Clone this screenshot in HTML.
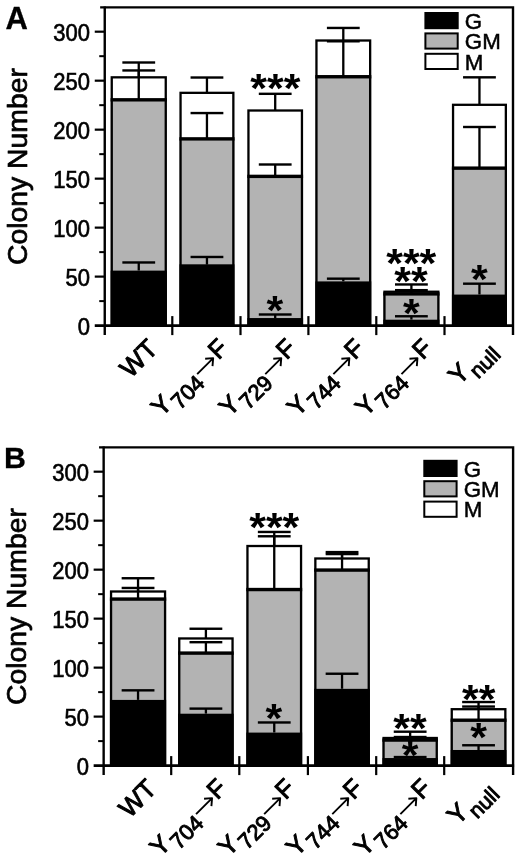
<!DOCTYPE html>
<html><head><meta charset="utf-8"><title>Figure</title>
<style>html,body{margin:0;padding:0;background:#fff}svg{display:block;will-change:transform}text{font-family:"Liberation Sans",sans-serif;fill:#000}</style>
</head><body>
<svg width="520" height="858" viewBox="0 0 520 858">
<rect width="520" height="858" fill="#fff"/>
<g>
<text x="5.5" y="28.5" font-size="31" font-weight="bold" stroke="#000" stroke-width="0.3">A</text>
<text transform="translate(26.6 166.6) rotate(-90)" font-size="28.3" letter-spacing="0.03" stroke="#000" stroke-width="0.7" stroke-linejoin="round" text-anchor="middle">Colony Number</text>
<text transform="translate(90 334.7) scale(1 1.06)" font-size="22" stroke="#000" stroke-width="0.6" text-anchor="end">0</text>
<text transform="translate(90 285.72) scale(1 1.06)" font-size="22" stroke="#000" stroke-width="0.6" text-anchor="end">50</text>
<text transform="translate(90 236.73) scale(1 1.06)" font-size="22" stroke="#000" stroke-width="0.6" text-anchor="end">100</text>
<text transform="translate(90 187.75) scale(1 1.06)" font-size="22" stroke="#000" stroke-width="0.6" text-anchor="end">150</text>
<text transform="translate(90 138.76) scale(1 1.06)" font-size="22" stroke="#000" stroke-width="0.6" text-anchor="end">200</text>
<text transform="translate(90 89.78) scale(1 1.06)" font-size="22" stroke="#000" stroke-width="0.6" text-anchor="end">250</text>
<text transform="translate(90 40.79) scale(1 1.06)" font-size="22" stroke="#000" stroke-width="0.6" text-anchor="end">300</text>
<rect x="110.6" y="77.33" width="56.3" height="22.38" fill="#fff"/>
<rect x="110.6" y="99.71" width="56.3" height="170.82" fill="#b3b3b3"/>
<rect x="110.6" y="270.52" width="56.3" height="55.08" fill="#000"/>
<rect x="111.75" y="77.33" width="54" height="248.27" fill="none" stroke="#000" stroke-width="2.3"/>
<rect x="110.6" y="98.11" width="56.3" height="3.4" fill="#000"/>
<rect x="137.6" y="62.5" width="2.3" height="14.82" fill="#000"/>
<rect x="122.35" y="61.3" width="32.8" height="2.4" fill="#000"/>
<rect x="137.6" y="70.45" width="2.3" height="29.25" fill="#000"/>
<rect x="122.35" y="69.25" width="32.8" height="2.4" fill="#000"/>
<rect x="137.6" y="262.47" width="2.3" height="8.05" fill="#000"/>
<rect x="122.35" y="261.27" width="32.8" height="2.4" fill="#000"/>
<rect x="179.4" y="92.84" width="55.1" height="45.94" fill="#fff"/>
<rect x="179.4" y="138.78" width="55.1" height="125.46" fill="#b3b3b3"/>
<rect x="179.4" y="264.24" width="55.1" height="61.36" fill="#000"/>
<rect x="180.55" y="92.84" width="52.8" height="232.76" fill="none" stroke="#000" stroke-width="2.3"/>
<rect x="179.4" y="137.18" width="55.1" height="3.4" fill="#000"/>
<rect x="205.8" y="77.52" width="2.3" height="15.31" fill="#000"/>
<rect x="190.55" y="76.32" width="32.8" height="2.4" fill="#000"/>
<rect x="205.8" y="113.06" width="2.3" height="25.92" fill="#000"/>
<rect x="190.55" y="111.86" width="32.8" height="2.4" fill="#000"/>
<rect x="205.8" y="256.98" width="2.3" height="7.66" fill="#000"/>
<rect x="190.55" y="255.78" width="32.8" height="2.4" fill="#000"/>
<rect x="247.3" y="110.51" width="55.8" height="65.77" fill="#fff"/>
<rect x="247.3" y="176.28" width="55.8" height="141.76" fill="#b3b3b3"/>
<rect x="247.3" y="318.04" width="55.8" height="7.56" fill="#000"/>
<rect x="248.45" y="110.51" width="53.5" height="215.09" fill="none" stroke="#000" stroke-width="2.3"/>
<rect x="247.3" y="174.68" width="55.8" height="3.4" fill="#000"/>
<rect x="274.05" y="93.82" width="2.3" height="16.69" fill="#000"/>
<rect x="258.8" y="92.62" width="32.8" height="2.4" fill="#000"/>
<rect x="274.05" y="164.5" width="2.3" height="11.78" fill="#000"/>
<rect x="258.8" y="163.3" width="32.8" height="2.4" fill="#000"/>
<rect x="274.05" y="314.5" width="2.3" height="3.53" fill="#000"/>
<rect x="258.8" y="313.3" width="32.8" height="2.4" fill="#000"/>
<text transform="translate(275.3 81.3) scale(1 0.93)" y="22" font-size="43" font-weight="bold" text-anchor="middle">***</text>
<text transform="translate(274.8 303.1) scale(1 0.93)" y="22" font-size="43" font-weight="bold" text-anchor="middle">*</text>
<rect x="315.3" y="40.51" width="56" height="36.13" fill="#fff"/>
<rect x="315.3" y="76.64" width="56" height="204.68" fill="#b3b3b3"/>
<rect x="315.3" y="281.32" width="56" height="44.28" fill="#000"/>
<rect x="316.45" y="40.51" width="53.7" height="285.09" fill="none" stroke="#000" stroke-width="2.3"/>
<rect x="315.3" y="75.04" width="56" height="3.4" fill="#000"/>
<rect x="342.15" y="27.95" width="2.3" height="12.86" fill="#000"/>
<rect x="326.9" y="26.75" width="32.8" height="2.4" fill="#000"/>
<rect x="342.15" y="41.3" width="2.3" height="35.83" fill="#000"/>
<rect x="326.9" y="40.1" width="32.8" height="2.4" fill="#000"/>
<rect x="342.15" y="278.67" width="2.3" height="2.65" fill="#000"/>
<rect x="326.9" y="277.47" width="32.8" height="2.4" fill="#000"/>
<rect x="383.3" y="291.73" width="56.2" height="2.06" fill="#fff"/>
<rect x="383.3" y="293.79" width="56.2" height="25.82" fill="#b3b3b3"/>
<rect x="383.3" y="319.61" width="56.2" height="5.99" fill="#000"/>
<rect x="384.45" y="291.73" width="53.9" height="33.87" fill="none" stroke="#000" stroke-width="2.3"/>
<rect x="383.3" y="292.19" width="56.2" height="3.4" fill="#000"/>
<rect x="410.25" y="284.46" width="2.3" height="7.26" fill="#000"/>
<rect x="395" y="283.26" width="32.8" height="2.4" fill="#000"/>
<rect x="410.25" y="290.16" width="2.3" height="3.93" fill="#000"/>
<rect x="395" y="288.96" width="32.8" height="2.4" fill="#000"/>
<rect x="410.25" y="316.27" width="2.3" height="3.34" fill="#000"/>
<rect x="395" y="315.07" width="32.8" height="2.4" fill="#000"/>
<text transform="translate(411.25 256.25) scale(1 0.93)" y="22" font-size="43" font-weight="bold" text-anchor="middle">***</text>
<text transform="translate(411 275) scale(1 0.93)" y="22" font-size="43" font-weight="bold" text-anchor="middle">**</text>
<text transform="translate(411.25 306.1) scale(1 0.93)" y="22" font-size="43" font-weight="bold" text-anchor="middle">*</text>
<rect x="451.9" y="104.81" width="55.1" height="63.22" fill="#fff"/>
<rect x="451.9" y="168.04" width="55.1" height="126.44" fill="#b3b3b3"/>
<rect x="451.9" y="294.48" width="55.1" height="31.12" fill="#000"/>
<rect x="453.05" y="104.81" width="52.8" height="220.79" fill="none" stroke="#000" stroke-width="2.3"/>
<rect x="451.9" y="166.44" width="55.1" height="3.4" fill="#000"/>
<rect x="478.3" y="77.33" width="2.3" height="27.49" fill="#000"/>
<rect x="463.05" y="76.13" width="32.8" height="2.4" fill="#000"/>
<rect x="478.3" y="127" width="2.3" height="41.43" fill="#000"/>
<rect x="463.05" y="125.8" width="32.8" height="2.4" fill="#000"/>
<rect x="478.3" y="283.68" width="2.3" height="10.8" fill="#000"/>
<rect x="463.05" y="282.48" width="32.8" height="2.4" fill="#000"/>
<text transform="translate(479.35 272.5) scale(1 0.93)" y="22" font-size="43" font-weight="bold" text-anchor="middle">*</text>
<path d="M100.15 7.4H513V335.1" fill="none" stroke="#000" stroke-width="2.4"/>
<path d="M104.75 6.4V335.1" fill="none" stroke="#000" stroke-width="2.4"/>
<path d="M94.75 325.7H514" fill="none" stroke="#000" stroke-width="2.7"/>
<rect x="94.75" y="275.51" width="10" height="2.2" fill="#000"/>
<rect x="94.75" y="226.53" width="10" height="2.2" fill="#000"/>
<rect x="94.75" y="177.55" width="10" height="2.2" fill="#000"/>
<rect x="94.75" y="128.56" width="10" height="2.2" fill="#000"/>
<rect x="94.75" y="79.58" width="10" height="2.2" fill="#000"/>
<rect x="94.75" y="30.59" width="10" height="2.2" fill="#000"/>
<rect x="99.25" y="300.11" width="5.5" height="2" fill="#000"/>
<rect x="99.25" y="251.12" width="5.5" height="2" fill="#000"/>
<rect x="99.25" y="202.14" width="5.5" height="2" fill="#000"/>
<rect x="99.25" y="153.15" width="5.5" height="2" fill="#000"/>
<rect x="99.25" y="104.17" width="5.5" height="2" fill="#000"/>
<rect x="99.25" y="55.18" width="5.5" height="2" fill="#000"/>
<rect x="171.2" y="316.1" width="2.2" height="19" fill="#000"/>
<rect x="239.4" y="316.1" width="2.2" height="19" fill="#000"/>
<rect x="307.3" y="316.1" width="2.2" height="19" fill="#000"/>
<rect x="375.2" y="316.1" width="2.2" height="19" fill="#000"/>
<rect x="443.4" y="316.1" width="2.2" height="19" fill="#000"/>
<rect x="425.4" y="13" width="32.3" height="15.2" fill="#000" stroke="#000" stroke-width="2"/>
<text x="464.8" y="28.7" font-size="22.3" stroke="#000" stroke-width="0.5">G</text>
<rect x="425.4" y="33.4" width="32.3" height="15.2" fill="#b3b3b3" stroke="#000" stroke-width="2"/>
<text x="464.8" y="49.1" font-size="22.3" stroke="#000" stroke-width="0.5">GM</text>
<rect x="425.4" y="53.8" width="32.3" height="15.2" fill="#fff" stroke="#000" stroke-width="2"/>
<text x="464.8" y="69.5" font-size="22.3" stroke="#000" stroke-width="0.5">M</text>
<g transform="translate(130.58 378.92) rotate(-45)" stroke="#000" stroke-width="0.95" stroke-linejoin="round"><text font-size="26">WT</text></g>
<g transform="translate(161.39 417.51) rotate(-45)" stroke="#000" stroke-width="0.95" stroke-linejoin="round"><text font-size="25.5">Y</text><text x="18.2" y="8.2" font-size="22">704</text><path d="M56 -5.4H78.3M72.5 -10.6L78.6 -5.4L72.5 -0.2" fill="none" stroke="#000" stroke-width="1.9"/><text x="80.7" y="0" font-size="25.5">F</text></g>
<g transform="translate(229.49 417.51) rotate(-45)" stroke="#000" stroke-width="0.95" stroke-linejoin="round"><text font-size="25.5">Y</text><text x="18.2" y="8.2" font-size="22">729</text><path d="M56 -5.4H78.3M72.5 -10.6L78.6 -5.4L72.5 -0.2" fill="none" stroke="#000" stroke-width="1.9"/><text x="80.7" y="0" font-size="25.5">F</text></g>
<g transform="translate(297.59 417.51) rotate(-45)" stroke="#000" stroke-width="0.95" stroke-linejoin="round"><text font-size="25.5">Y</text><text x="18.2" y="8.2" font-size="22">744</text><path d="M56 -5.4H78.3M72.5 -10.6L78.6 -5.4L72.5 -0.2" fill="none" stroke="#000" stroke-width="1.9"/><text x="80.7" y="0" font-size="25.5">F</text></g>
<g transform="translate(365.69 417.51) rotate(-45)" stroke="#000" stroke-width="0.95" stroke-linejoin="round"><text font-size="25.5">Y</text><text x="18.2" y="8.2" font-size="22">764</text><path d="M56 -5.4H78.3M72.5 -10.6L78.6 -5.4L72.5 -0.2" fill="none" stroke="#000" stroke-width="1.9"/><text x="80.7" y="0" font-size="25.5">F</text></g>
<g transform="translate(460.39 386.01) rotate(-45)" stroke="#000" stroke-width="0.95" stroke-linejoin="round"><text x="-1.1" y="-1.0" font-size="26">Y</text><text x="17.2" y="8.1" font-size="21.5">null</text></g>
</g>
<g>
<text x="4" y="468.3" font-size="30.3" font-weight="bold" stroke="#000" stroke-width="0.3">B</text>
<text transform="translate(25.5 606.6) rotate(-90)" font-size="28.3" letter-spacing="0.03" stroke="#000" stroke-width="0.7" stroke-linejoin="round" text-anchor="middle">Colony Number</text>
<text transform="translate(88.9 774.7) scale(1 1.06)" font-size="22" stroke="#000" stroke-width="0.6" text-anchor="end">0</text>
<text transform="translate(88.9 725.72) scale(1 1.06)" font-size="22" stroke="#000" stroke-width="0.6" text-anchor="end">50</text>
<text transform="translate(88.9 676.73) scale(1 1.06)" font-size="22" stroke="#000" stroke-width="0.6" text-anchor="end">100</text>
<text transform="translate(88.9 627.75) scale(1 1.06)" font-size="22" stroke="#000" stroke-width="0.6" text-anchor="end">150</text>
<text transform="translate(88.9 578.76) scale(1 1.06)" font-size="22" stroke="#000" stroke-width="0.6" text-anchor="end">200</text>
<text transform="translate(88.9 529.77) scale(1 1.06)" font-size="22" stroke="#000" stroke-width="0.6" text-anchor="end">250</text>
<text transform="translate(88.9 480.79) scale(1 1.06)" font-size="22" stroke="#000" stroke-width="0.6" text-anchor="end">300</text>
<rect x="109.9" y="591.5" width="56.3" height="7.47" fill="#fff"/>
<rect x="109.9" y="598.97" width="56.3" height="100.9" fill="#b3b3b3"/>
<rect x="109.9" y="699.87" width="56.3" height="65.73" fill="#000"/>
<rect x="111.05" y="591.5" width="54" height="174.1" fill="none" stroke="#000" stroke-width="2.3"/>
<rect x="109.9" y="597.37" width="56.3" height="3.4" fill="#000"/>
<rect x="136.9" y="578.24" width="2.3" height="13.36" fill="#000"/>
<rect x="121.65" y="577.04" width="32.8" height="2.4" fill="#000"/>
<rect x="136.9" y="587.96" width="2.3" height="11.5" fill="#000"/>
<rect x="121.65" y="586.76" width="32.8" height="2.4" fill="#000"/>
<rect x="136.9" y="690.34" width="2.3" height="9.53" fill="#000"/>
<rect x="121.65" y="689.14" width="32.8" height="2.4" fill="#000"/>
<rect x="178.1" y="638.46" width="55.6" height="14.54" fill="#fff"/>
<rect x="178.1" y="653" width="55.6" height="60.62" fill="#b3b3b3"/>
<rect x="178.1" y="713.62" width="55.6" height="51.98" fill="#000"/>
<rect x="179.25" y="638.46" width="53.3" height="127.14" fill="none" stroke="#000" stroke-width="2.3"/>
<rect x="178.1" y="651.4" width="55.6" height="3.4" fill="#000"/>
<rect x="204.75" y="628.74" width="2.3" height="9.73" fill="#000"/>
<rect x="189.5" y="627.54" width="32.8" height="2.4" fill="#000"/>
<rect x="204.75" y="642.2" width="2.3" height="11.3" fill="#000"/>
<rect x="189.5" y="641" width="32.8" height="2.4" fill="#000"/>
<rect x="204.75" y="708.61" width="2.3" height="5.01" fill="#000"/>
<rect x="189.5" y="707.41" width="32.8" height="2.4" fill="#000"/>
<rect x="246.3" y="546.01" width="55.9" height="43.43" fill="#fff"/>
<rect x="246.3" y="589.44" width="55.9" height="143.05" fill="#b3b3b3"/>
<rect x="246.3" y="732.49" width="55.9" height="33.11" fill="#000"/>
<rect x="247.45" y="546.01" width="53.6" height="219.59" fill="none" stroke="#000" stroke-width="2.3"/>
<rect x="246.3" y="587.84" width="55.9" height="3.4" fill="#000"/>
<rect x="273.1" y="531.96" width="2.3" height="14.05" fill="#000"/>
<rect x="257.85" y="530.76" width="32.8" height="2.4" fill="#000"/>
<rect x="273.1" y="536.28" width="2.3" height="53.35" fill="#000"/>
<rect x="257.85" y="535.08" width="32.8" height="2.4" fill="#000"/>
<rect x="273.1" y="722.47" width="2.3" height="10.02" fill="#000"/>
<rect x="257.85" y="721.27" width="32.8" height="2.4" fill="#000"/>
<text transform="translate(274.25 520.6) scale(1 0.93)" y="22" font-size="43" font-weight="bold" text-anchor="middle">***</text>
<text transform="translate(273.75 711.5) scale(1 0.93)" y="22" font-size="43" font-weight="bold" text-anchor="middle">*</text>
<rect x="314.2" y="558.49" width="55.7" height="11.5" fill="#fff"/>
<rect x="314.2" y="569.98" width="55.7" height="118.78" fill="#b3b3b3"/>
<rect x="314.2" y="688.77" width="55.7" height="76.83" fill="#000"/>
<rect x="315.35" y="558.49" width="53.4" height="207.11" fill="none" stroke="#000" stroke-width="2.3"/>
<rect x="314.2" y="568.38" width="55.7" height="3.4" fill="#000"/>
<rect x="340.9" y="552.1" width="2.3" height="6.39" fill="#000"/>
<rect x="325.65" y="550.9" width="32.8" height="2.4" fill="#000"/>
<rect x="340.9" y="554.07" width="2.3" height="15.92" fill="#000"/>
<rect x="325.65" y="552.87" width="32.8" height="2.4" fill="#000"/>
<rect x="340.9" y="673.73" width="2.3" height="15.03" fill="#000"/>
<rect x="325.65" y="672.53" width="32.8" height="2.4" fill="#000"/>
<rect x="382.4" y="737.99" width="55.5" height="1.97" fill="#fff"/>
<rect x="382.4" y="739.96" width="55.5" height="18.08" fill="#b3b3b3"/>
<rect x="382.4" y="758.03" width="55.5" height="7.57" fill="#000"/>
<rect x="383.55" y="737.99" width="53.2" height="27.61" fill="none" stroke="#000" stroke-width="2.3"/>
<rect x="382.4" y="738.36" width="55.5" height="3.4" fill="#000"/>
<rect x="409" y="731.7" width="2.3" height="6.29" fill="#000"/>
<rect x="393.75" y="730.5" width="32.8" height="2.4" fill="#000"/>
<rect x="409" y="737.01" width="2.3" height="3.93" fill="#000"/>
<rect x="393.75" y="735.81" width="32.8" height="2.4" fill="#000"/>
<rect x="409" y="757.05" width="2.3" height="0.98" fill="#000"/>
<rect x="393.75" y="755.85" width="32.8" height="2.4" fill="#000"/>
<text transform="translate(409.9 721.9) scale(1 0.93)" y="22" font-size="43" font-weight="bold" text-anchor="middle">**</text>
<text transform="translate(410 748.3) scale(1 0.93)" y="22" font-size="43" font-weight="bold" text-anchor="middle">*</text>
<rect x="450.6" y="709.2" width="55.9" height="10.91" fill="#fff"/>
<rect x="450.6" y="720.11" width="55.9" height="29.87" fill="#b3b3b3"/>
<rect x="450.6" y="749.98" width="55.9" height="15.62" fill="#000"/>
<rect x="451.75" y="709.2" width="53.6" height="56.4" fill="none" stroke="#000" stroke-width="2.3"/>
<rect x="450.6" y="718.51" width="55.9" height="3.4" fill="#000"/>
<rect x="477.4" y="702.03" width="2.3" height="7.17" fill="#000"/>
<rect x="462.15" y="700.83" width="32.8" height="2.4" fill="#000"/>
<rect x="477.4" y="706.55" width="2.3" height="13.75" fill="#000"/>
<rect x="462.15" y="705.35" width="32.8" height="2.4" fill="#000"/>
<rect x="477.4" y="745.26" width="2.3" height="4.72" fill="#000"/>
<rect x="462.15" y="744.06" width="32.8" height="2.4" fill="#000"/>
<text transform="translate(478.8 692.5) scale(1 0.93)" y="22" font-size="43" font-weight="bold" text-anchor="middle">**</text>
<text transform="translate(478.6 730.6) scale(1 0.93)" y="22" font-size="43" font-weight="bold" text-anchor="middle">*</text>
<path d="M99.05 447.4H513.1V775.1" fill="none" stroke="#000" stroke-width="2.4"/>
<path d="M103.65 446.4V775.1" fill="none" stroke="#000" stroke-width="2.4"/>
<path d="M93.65 765.7H514.1" fill="none" stroke="#000" stroke-width="2.7"/>
<rect x="93.65" y="715.51" width="10" height="2.2" fill="#000"/>
<rect x="93.65" y="666.53" width="10" height="2.2" fill="#000"/>
<rect x="93.65" y="617.54" width="10" height="2.2" fill="#000"/>
<rect x="93.65" y="568.56" width="10" height="2.2" fill="#000"/>
<rect x="93.65" y="519.57" width="10" height="2.2" fill="#000"/>
<rect x="93.65" y="470.59" width="10" height="2.2" fill="#000"/>
<rect x="98.15" y="740.11" width="5.5" height="2" fill="#000"/>
<rect x="98.15" y="691.12" width="5.5" height="2" fill="#000"/>
<rect x="98.15" y="642.14" width="5.5" height="2" fill="#000"/>
<rect x="98.15" y="593.15" width="5.5" height="2" fill="#000"/>
<rect x="98.15" y="544.17" width="5.5" height="2" fill="#000"/>
<rect x="98.15" y="495.18" width="5.5" height="2" fill="#000"/>
<rect x="170.1" y="756.1" width="2.2" height="19" fill="#000"/>
<rect x="238.2" y="756.1" width="2.2" height="19" fill="#000"/>
<rect x="306.8" y="756.1" width="2.2" height="19" fill="#000"/>
<rect x="375.1" y="756.1" width="2.2" height="19" fill="#000"/>
<rect x="443.1" y="756.1" width="2.2" height="19" fill="#000"/>
<rect x="424.3" y="460.8" width="32.3" height="15.2" fill="#000" stroke="#000" stroke-width="2"/>
<text x="463.7" y="476.5" font-size="22.3" stroke="#000" stroke-width="0.5">G</text>
<rect x="424.3" y="481.2" width="32.3" height="15.2" fill="#b3b3b3" stroke="#000" stroke-width="2"/>
<text x="463.7" y="496.9" font-size="22.3" stroke="#000" stroke-width="0.5">GM</text>
<rect x="424.3" y="501.6" width="32.3" height="15.2" fill="#fff" stroke="#000" stroke-width="2"/>
<text x="463.7" y="517.3" font-size="22.3" stroke="#000" stroke-width="0.5">M</text>
<g transform="translate(129.48 818.92) rotate(-45)" stroke="#000" stroke-width="0.95" stroke-linejoin="round"><text font-size="26">WT</text></g>
<g transform="translate(160.29 857.51) rotate(-45)" stroke="#000" stroke-width="0.95" stroke-linejoin="round"><text font-size="25.5">Y</text><text x="18.2" y="8.2" font-size="22">704</text><path d="M56 -5.4H78.3M72.5 -10.6L78.6 -5.4L72.5 -0.2" fill="none" stroke="#000" stroke-width="1.9"/><text x="80.7" y="0" font-size="25.5">F</text></g>
<g transform="translate(228.39 857.51) rotate(-45)" stroke="#000" stroke-width="0.95" stroke-linejoin="round"><text font-size="25.5">Y</text><text x="18.2" y="8.2" font-size="22">729</text><path d="M56 -5.4H78.3M72.5 -10.6L78.6 -5.4L72.5 -0.2" fill="none" stroke="#000" stroke-width="1.9"/><text x="80.7" y="0" font-size="25.5">F</text></g>
<g transform="translate(296.49 857.51) rotate(-45)" stroke="#000" stroke-width="0.95" stroke-linejoin="round"><text font-size="25.5">Y</text><text x="18.2" y="8.2" font-size="22">744</text><path d="M56 -5.4H78.3M72.5 -10.6L78.6 -5.4L72.5 -0.2" fill="none" stroke="#000" stroke-width="1.9"/><text x="80.7" y="0" font-size="25.5">F</text></g>
<g transform="translate(364.59 857.51) rotate(-45)" stroke="#000" stroke-width="0.95" stroke-linejoin="round"><text font-size="25.5">Y</text><text x="18.2" y="8.2" font-size="22">764</text><path d="M56 -5.4H78.3M72.5 -10.6L78.6 -5.4L72.5 -0.2" fill="none" stroke="#000" stroke-width="1.9"/><text x="80.7" y="0" font-size="25.5">F</text></g>
<g transform="translate(459.29 826.01) rotate(-45)" stroke="#000" stroke-width="0.95" stroke-linejoin="round"><text x="-1.1" y="-1.0" font-size="26">Y</text><text x="17.2" y="8.1" font-size="21.5">null</text></g>
</g>
</svg></body></html>
